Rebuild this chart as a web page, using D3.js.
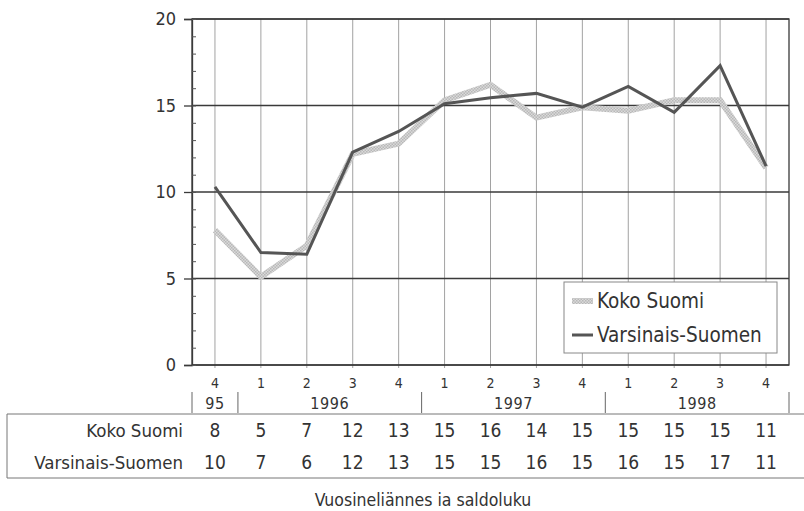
<!DOCTYPE html>
<html>
<head>
<meta charset="utf-8">
<script src="https://cdn.jsdelivr.net/npm/d3@7"></script>
<style>
  body { margin: 0; background: #fff; }
  svg text { font-family: 'DejaVu Sans Condensed', 'Liberation Sans', sans-serif; fill: #333; }
</style>
</head>
<body>
<div id="chart"></div>
<script>
// quarters along the x axis
let quarters = ["4", "1", "2", "3", "4", "1", "2", "3", "4", "1", "2", "3", "4"];
let years = [["95", 0, 1], ["1996", 1, 5], ["1997", 5, 9], ["1998", 9, 13]]; // label, first idx, end idx
let series_names = ["Koko Suomi", "Varsinais-Suomen"];
// values
let koko_suomi = [7.8, 5.1, 6.9, 12.2, 12.8, 15.3, 16.2, 14.3, 14.9, 14.7, 15.3, 15.3, 11.4];
let varsinais = [10.3, 6.5, 6.4, 12.3, 13.5, 15.1, 15.45, 15.7, 14.9, 16.1, 14.6, 17.3, 11.5];
// rounded values in the table
let koko_table = [8, 5, 7, 12, 13, 15, 16, 14, 15, 15, 15, 15, 11];
let vars_table = [10, 7, 6, 12, 13, 15, 15, 16, 15, 16, 15, 17, 11];
let y_ticks = [0, 5, 10, 15, 20];
let x_title = "Vuosineliännes ia saldoluku";

let W = 804, H = 511;
let margin = {top: 19, right: 15, bottom: 146, left: 192};
let width = W - margin.left - margin.right,
    height = H - margin.top - margin.bottom;

let svg = d3.select("#chart").append("svg")
  .attr("width", W).attr("height", H);

let defs = svg.append("defs");
let pat = defs.append("pattern")
  .attr("id", "hatch")
  .attr("patternUnits", "userSpaceOnUse")
  .attr("width", 3).attr("height", 3);
pat.append("rect").attr("width", 3).attr("height", 3).attr("fill", "#dadada");
pat.append("rect").attr("width", 1.5).attr("height", 1.5).attr("fill", "#b8b8b8");
pat.append("rect").attr("x", 1.5).attr("y", 1.5).attr("width", 1.5).attr("height", 1.5).attr("fill", "#b8b8b8");

let g = svg.append("g").attr("transform", "translate(" + margin.left + "," + margin.top + ")");

let idx = d3.range(quarters.length);
let x = d3.scalePoint().domain(idx).range([0, width]).padding(0.5);
let step = x.step();
let y = d3.scaleLinear().domain([0, 20]).range([height, 0]);

// vertical grid
g.selectAll("line.vgrid").data(idx).enter().append("line")
  .attr("class", "vgrid")
  .attr("x1", d => x(d)).attr("x2", d => x(d))
  .attr("y1", 0).attr("y2", height + 3)
  .attr("stroke", "#8a8a8a").attr("stroke-width", 0.8);

// horizontal grid
g.selectAll("line.hgrid").data(y_ticks).enter().append("line")
  .attr("class", "hgrid")
  .attr("x1", 0).attr("x2", width)
  .attr("y1", d => y(d)).attr("y2", d => y(d))
  .attr("stroke", "#3a3a3a").attr("stroke-width", 1.3);

// frame
g.append("rect").attr("width", width).attr("height", height)
  .attr("fill", "none").attr("stroke", "#3a3a3a").attr("stroke-width", 1.3);

// y axis, major
let yAxis = g.append("g")
  .call(d3.axisLeft(y).tickValues(y_ticks).tickSize(8).tickPadding(8));
yAxis.select(".domain").attr("stroke", "#3a3a3a").attr("stroke-width", 1.3);
yAxis.selectAll(".tick line").attr("stroke", "#3a3a3a").attr("stroke-width", 1.3);
yAxis.selectAll(".tick text").attr("font-size", 18).attr("fill", "#333")
  .style("font-family", "'DejaVu Sans Condensed', 'Liberation Sans', sans-serif");

// y axis, minor ticks inside
let yMinor = g.append("g")
  .call(d3.axisRight(y).tickValues(d3.range(0, 21)).tickSize(4).tickFormat(""));
yMinor.select(".domain").remove();
yMinor.selectAll(".tick line").attr("stroke", "#555");

// lines
let line = d3.line().x((d, i) => x(i)).y(d => y(d));
g.append("path").datum(koko_suomi)
  .attr("d", line).attr("fill", "none")
  .attr("stroke", "url(#hatch)").attr("stroke-width", 6)
  .attr("stroke-linejoin", "miter");
g.append("path").datum(varsinais)
  .attr("d", line).attr("fill", "none")
  .attr("stroke", "#555").attr("stroke-width", 3)
  .attr("stroke-linejoin", "miter");

// legend
let lg = g.append("g").attr("transform", "translate(" + (564 - margin.left) + "," + (282 - margin.top) + ")");
lg.append("rect").attr("width", 213).attr("height", 71)
  .attr("fill", "#fff").attr("stroke", "#888").attr("stroke-width", 1);
lg.append("line").attr("x1", 8).attr("x2", 29).attr("y1", 19).attr("y2", 19)
  .attr("stroke", "url(#hatch)").attr("stroke-width", 6);
lg.append("line").attr("x1", 8).attr("x2", 29).attr("y1", 53).attr("y2", 53)
  .attr("stroke", "#555").attr("stroke-width", 3);
lg.selectAll("text").data(series_names).enter().append("text")
  .attr("x", 33).attr("y", (d, i) => 19 + i * 34)
  .attr("dy", "0.36em")
  .attr("font-size", 20.5)
  .text(d => d);

// quarter labels
g.selectAll("text.q").data(quarters).enter().append("text")
  .attr("class", "q")
  .attr("x", (d, i) => x(i)).attr("y", height + 18)
  .attr("dy", "0.36em")
  .attr("text-anchor", "middle").attr("font-size", 14).attr("fill", "#555")
  .text(d => d);

// year labels and separators
let yearTop = height + 27, yearBot = height + 48;
let seps = [0].concat(years.map(d => d[2]));
g.selectAll("line.ysep").data(seps).enter().append("line")
  .attr("x1", d => d * step).attr("x2", d => d * step)
  .attr("y1", yearTop).attr("y2", yearBot)
  .attr("stroke", "#666").attr("stroke-width", 1);
g.selectAll("text.yr").data(years).enter().append("text")
  .attr("x", d => (d[1] + d[2]) / 2 * step).attr("y", height + 38)
  .attr("dy", "0.36em")
  .attr("text-anchor", "middle").attr("font-size", 16).attr("letter-spacing", 0.6)
  .text(d => d[0]);

// data table
let tTop = 414 - margin.top, tBot = 478 - margin.top;
g.append("line").attr("x1", 7 - margin.left).attr("x2", W - margin.left)
  .attr("y1", tTop).attr("y2", tTop).attr("stroke", "#777");
g.append("line").attr("x1", 7 - margin.left).attr("x2", W - margin.left)
  .attr("y1", tBot).attr("y2", tBot).attr("stroke", "#777");
g.append("line").attr("x1", 7 - margin.left).attr("x2", 7 - margin.left)
  .attr("y1", tTop).attr("y2", tBot).attr("stroke", "#777");

let rows = [koko_table, vars_table];
rows.forEach(function(vals, r) {
  let ry = 430 - margin.top + r * 32;
  g.append("text").attr("x", 183 - margin.left).attr("y", ry)
    .attr("dy", "0.36em").attr("text-anchor", "end")
    .attr("font-size", 18.5)
    .text(series_names[r]);
  g.selectAll("text.v" + r).data(vals).enter().append("text")
    .attr("x", (d, i) => x(i)).attr("y", ry)
    .attr("dy", "0.36em").attr("text-anchor", "middle")
    .attr("font-size", 19)
    .text(d => d);
});

// x title
g.append("text").attr("x", 423 - margin.left).attr("y", 500 - margin.top)
  .attr("dy", "0.36em").attr("text-anchor", "middle")
  .attr("font-size", 17.5)
  .text(x_title);
</script>
</body>
</html>
